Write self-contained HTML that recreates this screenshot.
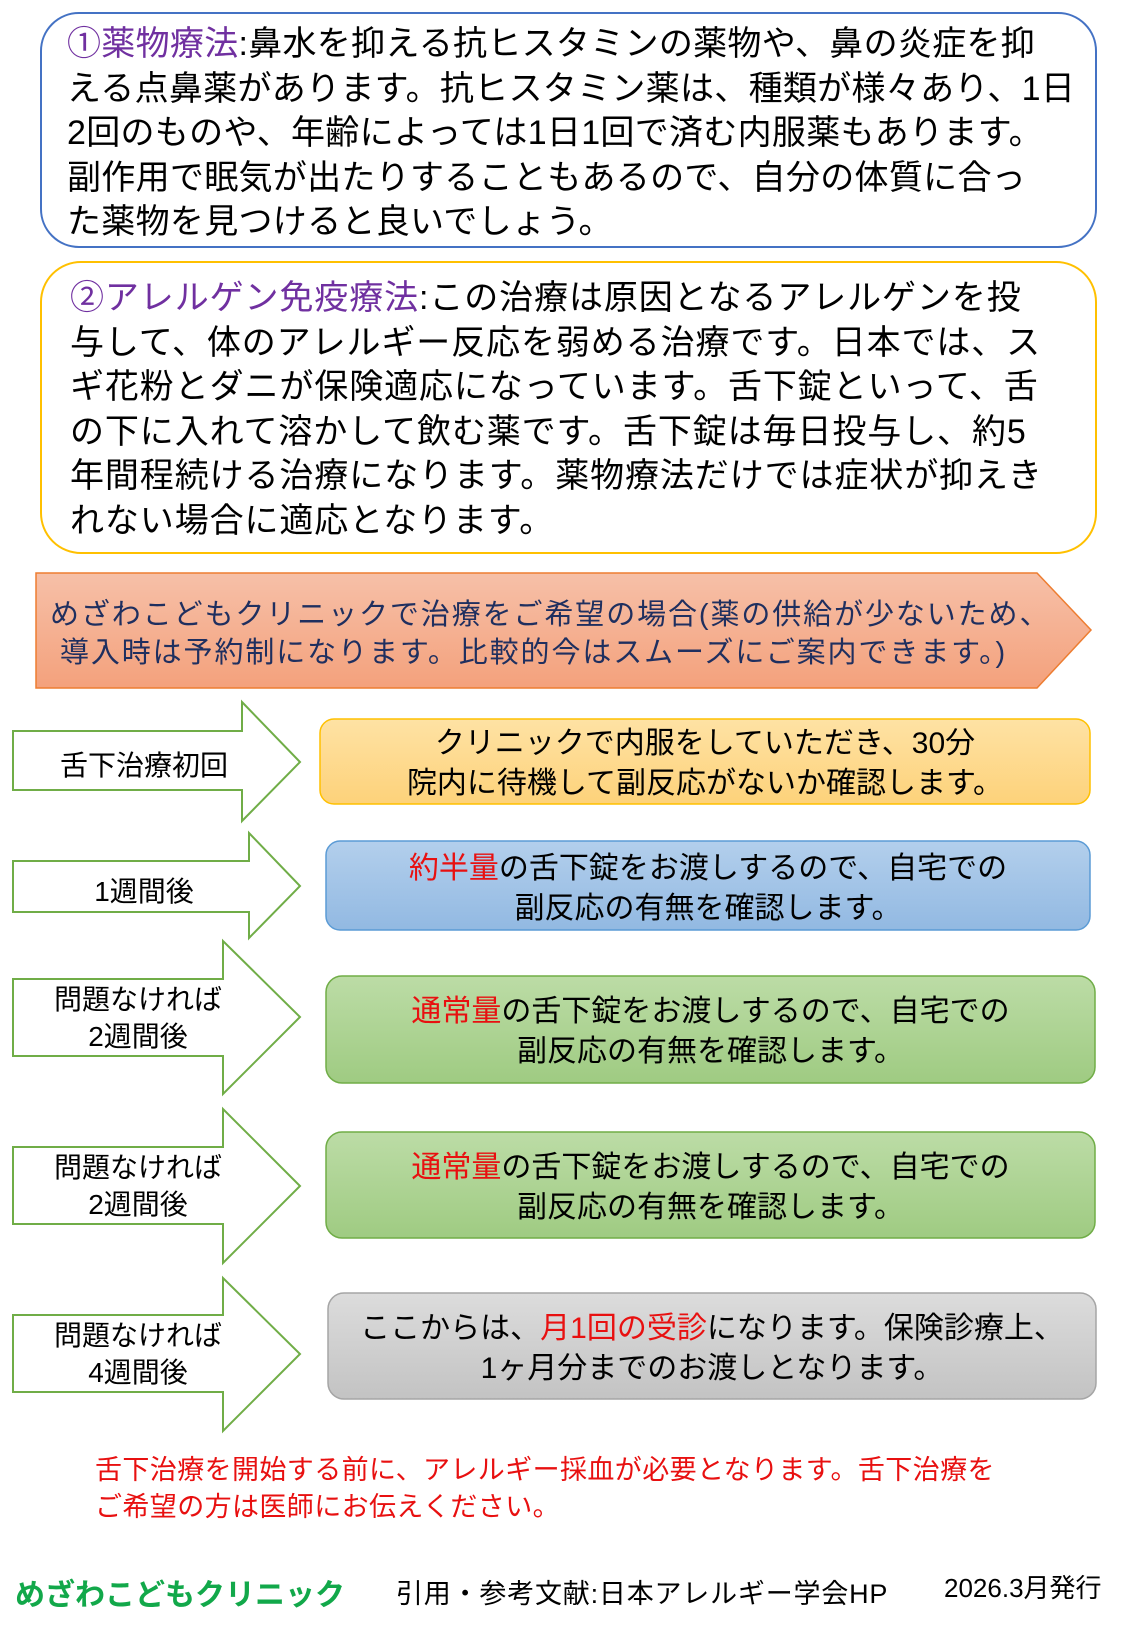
<!DOCTYPE html>
<html><head><meta charset="utf-8"><style>
body{margin:0;width:1125px;height:1625px;position:relative;background:#fff;font-family:"Liberation Sans","Noto Sans CJK JP",sans-serif;overflow:hidden}
.t{position:absolute;white-space:nowrap;color:#000}
.p{color:#7030a0}
.r{color:#e81010}
.c{text-align:center}
</style></head><body>
<svg width="1125" height="1625" style="position:absolute;left:0;top:0">
<defs>
<linearGradient id="og" x1="0" y1="0" x2="0" y2="1"><stop offset="0" stop-color="#f6c0a8"/><stop offset="1" stop-color="#f4a17c"/></linearGradient>
<linearGradient id="yg" x1="0" y1="0" x2="0" y2="1"><stop offset="0" stop-color="#fee2a4"/><stop offset="1" stop-color="#fdd27a"/></linearGradient>
<linearGradient id="bg" x1="0" y1="0" x2="0" y2="1"><stop offset="0" stop-color="#b3cfec"/><stop offset="1" stop-color="#92b9e2"/></linearGradient>
<linearGradient id="gg" x1="0" y1="0" x2="0" y2="1"><stop offset="0" stop-color="#bcdca6"/><stop offset="1" stop-color="#9fcb82"/></linearGradient>
<linearGradient id="sg" x1="0" y1="0" x2="0" y2="1"><stop offset="0" stop-color="#dcdcdc"/><stop offset="1" stop-color="#c3c3c3"/></linearGradient>
</defs>
<rect x="41" y="13" width="1055" height="234" rx="38" fill="#fff" stroke="#4472c4" stroke-width="2"/>
<rect x="41" y="262" width="1055" height="291" rx="40" fill="#fff" stroke="#ffc000" stroke-width="2"/>
<polygon points="36,573 1037,573 1091,630 1037,688 36,688" fill="url(#og)" stroke="#ed7d31" stroke-width="1.5"/>
<g fill="#fff" stroke="#70ad47" stroke-width="2">
<polygon points="13,731 242,731 242,702 300,762 242,821 242,790 13,790"/>
<polygon points="13,861 249,861 249,833 300,886 249,938 249,912 13,912"/>
<polygon points="13,979 223,979 223,941 300,1017 223,1094 223,1056 13,1056"/>
<polygon points="13,1147 223,1147 223,1109 300,1186 223,1263 223,1224 13,1224"/>
<polygon points="13,1315 223,1315 223,1278 300,1354 223,1431 223,1392 13,1392"/>
</g>
<rect x="320" y="719" width="770" height="85" rx="14" fill="url(#yg)" stroke="#ffc000" stroke-width="1.5"/>
<rect x="326" y="841" width="764" height="89" rx="14" fill="url(#bg)" stroke="#5b9bd5" stroke-width="1.5"/>
<rect x="326" y="976" width="769" height="107" rx="16" fill="url(#gg)" stroke="#70ad47" stroke-width="1.5"/>
<rect x="326" y="1132" width="769" height="106" rx="16" fill="url(#gg)" stroke="#70ad47" stroke-width="1.5"/>
<rect x="328" y="1293" width="768" height="106" rx="16" fill="url(#sg)" stroke="#a5a5a5" stroke-width="1.5"/>
</svg>

<div class="t" style="left:67px;top:22px;font-size:34px;line-height:44.6px;letter-spacing:0.3px">
<span class="p">①薬物療法</span>:鼻水を抑える抗ヒスタミンの薬物や、鼻の炎症を抑<br>える点鼻薬があります。抗ヒスタミン薬は、種類が様々あり、1日<br>2回のものや、年齢によっては1日1回で済む内服薬もあります。<br>副作用で眠気が出たりすることもあるので、自分の体質に合っ<br>た薬物を見つけると良いでしょう。</div>

<div class="t" style="left:70px;top:276px;font-size:34px;line-height:44.6px;letter-spacing:0.9px">
<span class="p">②アレルゲン免疫療法</span>:この治療は原因となるアレルゲンを投<br>与して、体のアレルギー反応を弱める治療です。日本では、ス<br>ギ花粉とダニが保険適応になっています。舌下錠といって、舌<br>の下に入れて溶かして飲む薬です。舌下錠は毎日投与し、約5<br>年間程続ける治療になります。薬物療法だけでは症状が抑えき<br>れない場合に適応となります。</div>

<div class="t" style="left:50px;top:596px;font-size:29px;line-height:38px;color:#1f2f5f;letter-spacing:1.9px">めざわこどもクリニックで治療をご希望の場合(薬の供給が少ないため、<br>&nbsp;導入時は予約制になります。比較的今はスムーズにご案内できます。)</div>

<div class="t c" style="left:13px;width:262px;top:744px;font-size:28px">舌下治療初回</div>
<div class="t c" style="left:13px;width:262px;top:870px;font-size:28px">1週間後</div>
<div class="t c" style="left:13px;width:250px;top:981px;font-size:28px;line-height:37px">問題なければ<br>2週間後</div>
<div class="t c" style="left:13px;width:250px;top:1149px;font-size:28px;line-height:37px">問題なければ<br>2週間後</div>
<div class="t c" style="left:13px;width:250px;top:1317px;font-size:28px;line-height:37px">問題なければ<br>4週間後</div>

<div class="t c" style="left:320px;width:770px;top:724px;font-size:30px;line-height:40px">クリニックで内服をしていただき、30分<br>院内に待機して副反応がないか確認します。</div>
<div class="t c" style="left:326px;width:764px;top:849px;font-size:30px;line-height:40px"><span class="r">約半量</span>の舌下錠をお渡しするので、自宅での<br>副反応の有無を確認します。</div>
<div class="t c" style="left:326px;width:769px;top:992px;font-size:30px;line-height:40px"><span class="r">通常量</span>の舌下錠をお渡しするので、自宅での<br>副反応の有無を確認します。</div>
<div class="t c" style="left:326px;width:769px;top:1148px;font-size:30px;line-height:40px"><span class="r">通常量</span>の舌下錠をお渡しするので、自宅での<br>副反応の有無を確認します。</div>
<div class="t c" style="left:328px;width:768px;top:1309px;font-size:30px;line-height:40px">ここからは、<span class="r">月1回の受診</span>になります。保険診療上、<br>1ヶ月分までのお渡しとなります。</div>

<div class="t" style="left:95px;top:1452px;font-size:27px;line-height:37px;color:#e81010;letter-spacing:0.4px">舌下治療を開始する前に、アレルギー採血が必要となります。舌下治療を<br>ご希望の方は医師にお伝えください。</div>

<div class="t" style="left:15px;top:1570px;font-size:30px;font-weight:bold;color:#12a84a">めざわこどもクリニック</div>
<div class="t" style="left:396px;top:1572px;font-size:27px;letter-spacing:0.8px">引用・参考文献:日本アレルギー学会HP</div>
<div class="t" style="left:944px;top:1568px;font-size:26px">2026.3月発行</div>
</body></html>
